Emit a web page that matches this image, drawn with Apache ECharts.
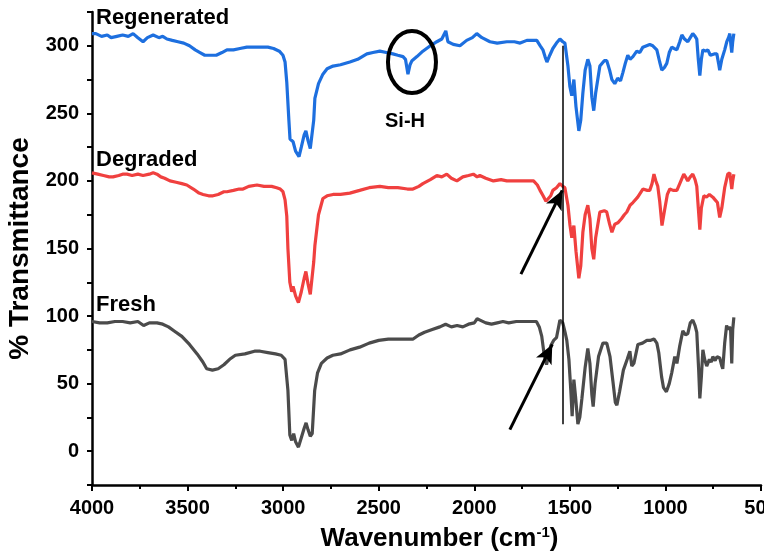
<!DOCTYPE html>
<html>
<head>
<meta charset="utf-8">
<script src="https://cdn.jsdelivr.net/npm/echarts@6/dist/echarts.min.js"></script>
<style>
	html, body { margin: 0; padding: 0; background: #fff; }
	#ftir { width: 764px; height: 552px; }
</style>
</head>
<body>
<div id="ftir"></div>
<script>
/* FTIR spectra: [wavenumber, %T] */
var fresh = [[4000,96],[3960,95],[3920,95],[3880,96],[3840,96],[3800,95],[3760,96],[3730,93],[3700,95],[3660,95],[3630,94],[3600,92],[3570,89],[3530,85],[3490,79],[3450,72],[3420,66],[3400,61],[3370,60],[3340,61],[3310,64],[3280,68],[3250,71],[3200,72],[3150,74],[3120,74],[3080,73],[3040,72],[3010,71],[2990,68],[2975,45],[2965,12],[2955,8],[2945,13],[2935,7],[2920,3],[2905,10],[2890,17],[2880,21],[2870,16],[2858,11],[2848,13],[2835,45],[2820,58],[2800,65],[2770,69],[2740,71],[2700,72],[2650,75],[2600,77],[2550,80],[2500,82],[2450,83],[2400,83],[2350,83],[2320,83],[2290,86],[2260,88],[2220,90],[2180,92],[2150,94],[2120,92],[2090,93],[2060,92],[2030,94],[2000,95],[1985,98],[1970,97],[1940,95],[1910,94],[1880,95],[1850,96],[1820,95],[1780,96],[1740,96],[1700,96],[1675,96],[1660,92],[1647,85],[1635,72],[1622,64],[1612,65],[1600,78],[1585,82],[1570,84],[1552,97],[1537,95],[1525,88],[1516,82],[1505,68],[1495,45],[1488,26],[1479,53],[1470,40],[1458,20],[1448,25],[1437,39],[1420,62],[1406,76],[1395,65],[1385,42],[1378,33],[1368,50],[1350,70],[1327,80],[1307,80],[1290,70],[1275,52],[1262,36],[1254,34],[1240,44],[1220,60],[1200,68],[1186,74],[1176,63],[1165,65],[1144,79],[1120,80],[1097,82],[1080,82],[1060,83],[1045,80],[1035,73],[1020,55],[1010,47],[995,44],[980,50],[967,58],[951,70],[940,65],[925,78],[909,89],[895,86],[883,87],[870,95],[857,97],[845,93],[836,88],[826,60],[820,39],[812,55],[804,75],[795,68],[784,63],[770,68],[760,66],[752,70],[740,67],[730,70],[716,69],[705,63],[700,61],[690,80],[680,93],[672,90],[665,92],[659,90],[653,65],[648,90],[642,99]];

var degraded = [[4000,206],[3970,205],[3940,204],[3910,203],[3890,203],[3860,204],[3840,205],[3817,205],[3790,204],[3760,205],[3733,204],[3700,205],[3680,206],[3660,205],[3640,203],[3620,202],[3592,200],[3560,199],[3530,198],[3504,197],[3470,194],[3440,191],[3419,190],[3390,189],[3367,189],[3340,190],[3310,192],[3294,192],[3260,193],[3230,194],[3210,194],[3180,196],[3137,197],[3100,196],[3060,196],[3034,195],[3015,194],[3001,192],[2990,186],[2981,174],[2975,150],[2965,125],[2955,118],[2948,122],[2935,115],[2920,110],[2905,118],[2890,128],[2881,133],[2870,124],[2858,116],[2849,116],[2840,140],[2834,152],[2815,175],[2792,187],[2770,189],[2739,190],[2700,190],[2651,191],[2600,193],[2550,195],[2494,196],[2450,195],[2400,195],[2350,194],[2321,194],[2290,196],[2269,198],[2230,201],[2196,204],[2170,203],[2144,205],[2120,202],[2091,200],[2060,203],[2030,204],[2005,205],[1985,203],[1971,204],[1940,202],[1900,200],[1860,201],[1830,200],[1795,200],[1760,200],[1720,200],[1690,200],[1670,197],[1656,193],[1640,189],[1625,185],[1615,184],[1600,189],[1589,193],[1570,195],[1552,198],[1537,196],[1526,195],[1510,182],[1500,168],[1490,158],[1479,167],[1468,148],[1453,128],[1443,137],[1432,162],[1420,175],[1406,182],[1395,172],[1385,150],[1375,142],[1365,158],[1343,177],[1320,178],[1307,177],[1292,168],[1280,162],[1265,168],[1249,169],[1230,172],[1215,175],[1202,177],[1185,182],[1170,184],[1145,188],[1118,194],[1095,193],[1082,193],[1070,198],[1060,205],[1050,200],[1040,196],[1030,185],[1018,167],[1005,178],[990,190],[977,194],[960,193],[940,193],[925,198],[904,205],[895,203],[883,200],[870,203],[857,205],[845,201],[836,196],[828,180],[820,164],[812,180],[799,189],[785,188],[770,190],[752,188],[740,186],[728,184],[716,173],[705,180],[700,185],[690,195],[674,205],[663,206],[653,194],[648,200],[642,205]];

var regenerated = [[4000,309],[3980,309],[3950,307],[3920,308],[3900,306],[3870,307],[3840,308],[3810,307],[3785,309],[3760,306],[3733,303],[3710,306],[3680,308],[3650,306],[3630,307],[3608,305],[3580,304],[3550,303],[3520,302],[3490,300],[3460,297],[3435,295],[3410,293],[3380,293],[3350,293],[3320,295],[3294,297],[3260,297],[3226,298],[3190,299],[3150,299],[3121,299],[3080,299],[3050,298],[3020,296],[3001,293],[2990,288],[2981,273],[2970,245],[2964,231],[2955,232],[2948,229],[2935,222],[2917,218],[2905,225],[2890,234],[2881,237],[2870,230],[2858,224],[2849,223],[2840,245],[2834,261],[2815,272],[2792,279],[2770,283],[2739,285],[2700,286],[2651,288],[2610,290],[2562,294],[2530,295],[2494,296],[2460,295],[2426,294],[2400,293],[2373,292],[2360,290],[2347,279],[2336,286],[2326,289],[2300,292],[2269,296],[2230,300],[2196,303],[2170,305],[2149,311],[2138,303],[2110,301],[2075,300],[2040,304],[2010,306],[1987,309],[1960,306],[1918,303],[1880,302],[1830,303],[1790,303],[1760,302],[1725,304],[1700,304],[1673,304],[1655,300],[1641,297],[1630,292],[1620,288],[1605,293],[1589,298],[1570,302],[1552,305],[1537,303],[1526,302],[1510,285],[1500,270],[1490,263],[1479,275],[1468,255],[1453,237],[1443,245],[1432,265],[1420,282],[1406,290],[1395,285],[1385,262],[1375,252],[1365,265],[1343,285],[1320,289],[1307,289],[1292,282],[1280,275],[1265,272],[1250,276],[1235,274],[1223,280],[1210,287],[1197,293],[1185,290],[1170,292],[1150,296],[1134,295],[1118,299],[1082,301],[1066,300],[1045,297],[1030,288],[1019,282],[1005,284],[993,287],[980,295],[967,299],[955,298],[940,297],[925,303],[914,308],[900,305],[883,303],[870,306],[857,309],[845,307],[836,305],[828,290],[820,278],[812,290],[804,297],[790,296],[778,297],[765,293],[758,292],[745,294],[731,294],[722,287],[716,282],[705,290],[700,291],[690,297],[679,303],[670,306],[663,309],[657,300],[653,295],[648,303],[642,309]];

var xTicks = [4000, 3500, 3000, 2500, 2000, 1500, 1000, 500];
var yTicks = [0, 50, 100, 150, 200, 250, 300];

// annotation anchors, data units
var peakLine = [[1537, 300], [1537, 20]];
var arrowDeg = [[1756, 131], [1540, 193]];
var arrowFresh = [[1814, 16], [1592, 79]];
var siH = [2326, 288];

var FONT = 'Liberation Sans';
var chart = echarts.init(document.getElementById('ftir'));

chart.setOption({
	backgroundColor: '#fff',
	animation: false,
	grid: { left: 92, right: 3, top: 12, bottom: 67, outerBoundsMode: 'none', containLabel: false },
	xAxis: {
		type: 'value',
		inverse: true,
		min: 500,
		max: 4000,
		interval: 500,
		name: '{a|Wavenumber (cm}{s|-1}{a|)}',
		nameLocation: 'middle',
		nameGap: 40,
		nameTextStyle: {
			padding: [0, 0, 0, 26],
			rich: {
				a: { fontFamily: FONT, fontWeight: 'bold', fontSize: 26, color: '#000', lineHeight: 28 },
				s: { fontFamily: FONT, fontWeight: 'bold', fontSize: 15, color: '#000', verticalAlign: 'top', lineHeight: 15 }
			}
		},
		axisLine: { onZero: false, lineStyle: { color: '#000', width: 2.5 } },
		axisTick: { inside: false, length: 6, lineStyle: { color: '#000', width: 2 } },
		minorTick: { show: true, splitNumber: 2, length: 4, lineStyle: { color: '#000', width: 2 } },
		splitLine: { show: false },
		axisLabel: {
			margin: 13,
			color: '#000',
			fontFamily: FONT,
			fontWeight: 'bold',
			fontSize: 20,
			hideOverlap: false,
			formatter: function (v) { return xTicks.indexOf(v) >= 0 ? String(v) : ''; }
		}
	},
	yAxis: {
		type: 'value',
		min: -25,
		max: 325,
		interval: 25,
		name: '% Transmittance',
		nameLocation: 'middle',
		nameGap: 54,
		nameTextStyle: { fontFamily: FONT, fontWeight: 'bold', fontSize: 28, color: '#000' },
		axisLine: { show: true, onZero: false, lineStyle: { color: '#000', width: 2.5 } },
		axisTick: { show: true, inside: false, length: 5, lineStyle: { color: '#000', width: 2 } },
		splitLine: { show: false },
		axisLabel: {
			margin: 13,
			color: '#000',
			fontFamily: FONT,
			fontWeight: 'bold',
			fontSize: 20,
			formatter: function (v) { return yTicks.indexOf(v) >= 0 ? String(v) : ''; }
		}
	},
	series: [{
		name: 'Fresh',
		type: 'line',
		data: fresh,
		showSymbol: false,
		lineStyle: { color: '#4b4b4b', width: 3.2 },
		z: 3
	}, {
		name: 'Degraded',
		type: 'line',
		data: degraded,
		showSymbol: false,
		lineStyle: { color: '#f0403f', width: 3.2 },
		z: 3
	}, {
		name: 'Regenerated',
		type: 'line',
		data: regenerated,
		showSymbol: false,
		lineStyle: { color: '#1d6fdf', width: 3.2 },
		z: 3,
		markLine: {
			silent: true,
			animation: false,
			label: { show: false },
			data: [
				[{ coord: peakLine[0], symbol: 'none', lineStyle: { color: '#000', width: 1.5, type: 'solid' } },
				 { coord: peakLine[1], symbol: 'none' }],
				[{ coord: arrowDeg[0], symbol: 'none', lineStyle: { color: '#000', width: 3, type: 'solid' } },
				 { coord: arrowDeg[1], symbol: 'arrow', symbolSize: [13, 19] }],
				[{ coord: arrowFresh[0], symbol: 'none', lineStyle: { color: '#000', width: 3, type: 'solid' } },
				 { coord: arrowFresh[1], symbol: 'arrow', symbolSize: [13, 19] }]
			]
		}
	}]
});

// labels + Si-H ring
var c = chart.convertToPixel({ gridIndex: 0 }, siH);
function lbl(txt, x, y, size) {
	return {
		type: 'text', x: x, y: y, z: 10,
		style: { text: txt, fill: '#000', fontFamily: FONT, fontWeight: 'bold', fontSize: size, textVerticalAlign: 'middle' }
	};
}
chart.setOption({
	graphic: [
		lbl('Regenerated', 96, 18, 22),
		lbl('Degraded', 96, 160, 22),
		lbl('Fresh', 96, 305, 22),
		{
			type: 'text', x: 405, y: 121, z: 10,
			style: { text: 'Si-H', fill: '#000', fontFamily: FONT, fontWeight: 'bold', fontSize: 20, textAlign: 'center', textVerticalAlign: 'middle' }
		},
		{
			type: 'ellipse', z: 10,
			shape: { cx: c[0], cy: c[1], rx: 24, ry: 31 },
			style: { fill: 'none', stroke: '#000', lineWidth: 4 }
		}
	]
});
</script>
</body>
</html>
